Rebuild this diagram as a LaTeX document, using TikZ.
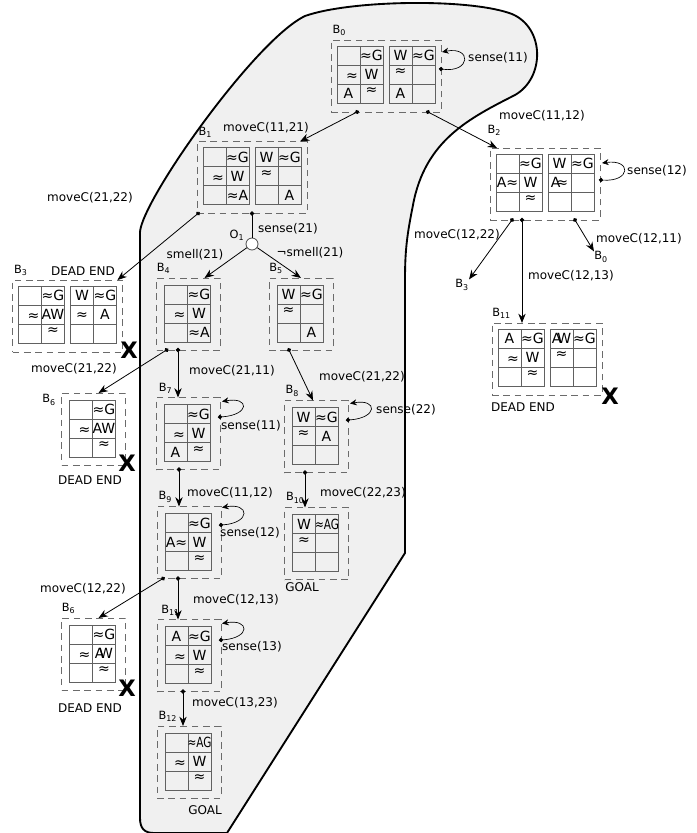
\documentclass[tikz,border=0pt]{standalone}
\usepackage{fontspec}
\setmainfont{DejaVu Sans}
\usetikzlibrary{positioning,arrows.meta,calc}
\definecolor{dashgray}{gray}{0.42}
\definecolor{gridgray}{gray}{0.38}
\definecolor{blobfill}{gray}{0.94}
% lone approx signs: raised to the cell top, or pushed right
\newcommand{\apT}{\raisebox{3pt}{≈}}
\newcommand{\apR}{\makebox[14pt][r]{\raisebox{-1pt}{≈}}}
\newcommand{\sq}[1]{\scalebox{0.75}[1]{#1}}
% 2x3 belief grid: corner, offset, cells row by row
\newcommand{\bgrid}[8]{%
  \begin{scope}[shift={(#1)},shift={(#2)}]
    \draw[gridln] (0,0) rectangle (46,57);
    \draw[gridln] (23,0) -- (23,57) (0,19) -- (46,19) (0,38) -- (46,38);
    \node[cell] at (11.5,9.5) {#3};
    \node[cell] at (34.5,9.5) {#4};
    \node[cell] at (11.5,28.5) {#5};
    \node[cell] at (34.5,28.5) {#6};
    \node[cell] at (11.5,47.5) {#7};
    \node[cell] at (34.5,47.5) {#8};
  \end{scope}}

\begin{document}
\begin{tikzpicture}[x=0.75pt,y=-0.75pt,
  blob/.style={fill=blobfill,draw=black,line width=1.4pt,line join=round},
  belief/.style={draw=dashgray,dash pattern=on 5pt off 3.5pt,line width=0.7pt,inner sep=0pt,outer sep=0pt},
  bone/.style={belief,minimum width=48pt,minimum height=54pt},
  btwo/.style={belief,minimum width=82.5pt,minimum height=54pt},
  cell/.style={font=\fontsize{10.5}{10.5}\selectfont,inner sep=0pt,text height=7.5pt,text depth=0pt},
  gridln/.style={draw=gridgray,line width=0.7pt},
  lbl/.style={font=\fontsize{9}{10}\selectfont,inner sep=1pt},
  blab/.style={font=\fontsize{8.5}{9}\selectfont,inner sep=0pt},
  xmark/.style={font=\fontsize{17}{17}\selectfont\bfseries,inner sep=0pt},
  obs/.style={circle,draw=black!70,fill=white,minimum size=9pt,inner sep=0pt,line width=0.6pt},
  ar/.style={{Circle[length=3.2pt]}-{Stealth[length=7pt,width=5.5pt]},shorten <=-1.6pt,line width=0.6pt},
  arp/.style={-{Stealth[length=7pt,width=5.5pt]},line width=0.6pt},
  ln/.style={{Circle[length=3.2pt]}-,shorten <=-1.6pt,line width=0.6pt},
  lp/.style={{Circle[length=3.2pt]}-{Stealth[length=5pt,width=4.5pt]},shorten <=-1.6pt,line width=0.5pt}]
\useasboundingbox (0,0) rectangle (697,833);
% shaded region
\draw[blob] (140,818) -- (140,232) .. controls (142,200) and (255,40) .. (305,16)
  .. controls (350,0) and (470,-2) .. (512,14) .. controls (545,28) and (545,78) .. (515,95)
  .. controls (470,118) and (425,140) .. (413,205) .. controls (407,235) and (405,250) .. (405,280)
  -- (405,553) -- (227,833) -- (154,833) .. controls (144,833) and (140,828) .. (140,818) -- cycle;
% belief states
\node[btwo] (b0) at (386,76) {};
\node[btwo] (b1) at (252,177.5) {};
\node[btwo] (b2) at (545,184) {};
\node[btwo] (b3) at (67.5,316) {};
\node[bone] (b4) at (188.5,314) {};
\node[bone] (b5) at (301,314) {};
\node[bone] (b6a) at (93.5,429) {};
\node[bone] (b7) at (188,433.5) {};
\node[bone] (b8) at (316,436.5) {};
\node[bone] (b9) at (189,542.5) {};
\node[bone] (b10) at (316.5,543.5) {};
\node[bone] (b6b) at (93.5,654) {};
\node[bone] (b11a) at (189,655.5) {};
\node[bone] (b12) at (189,762) {};
\node[btwo] (b11b) at (547,359) {};
\node[obs] (o1) at (252,244) {};
% grids
\bgrid{b0.north west}{6,6}{}{≈G}{\apR}{W}{A}{\apT}
\bgrid{b0.north west}{58,6}{W}{≈G}{\apT}{}{A}{}
\bgrid{b1.north west}{6,6}{}{≈G}{\apR}{W}{}{≈A}
\bgrid{b1.north west}{58,6}{W}{≈G}{\apT}{}{}{A}
\bgrid{b2.north west}{6,6}{}{≈G}{A≈}{W}{}{\apT}
\bgrid{b2.north west}{58,6}{W}{≈G}{A\kern-3pt≈}{}{}{}
\bgrid{b3.north west}{6,6}{}{≈G}{\apR}{AW}{}{\apT}
\bgrid{b3.north west}{58,6}{W}{≈G}{≈}{A}{}{}
\bgrid{b4.north west}{8,7}{}{≈G}{\apR}{W}{}{≈A}
\bgrid{b5.north west}{8,7}{W}{≈G}{\apT}{}{}{A}
\bgrid{b6a.north west}{8,7}{}{≈G}{\apR}{AW}{}{\apT}
\bgrid{b7.north west}{8,7}{}{≈G}{\apR}{W}{A}{\apT}
\bgrid{b8.north west}{8,7}{W}{≈G}{\apT}{A}{}{}
\bgrid{b9.north west}{8,7}{}{≈G}{A≈}{W}{}{\apT}
\bgrid{b10.north west}{8,7}{W}{\sq{≈AG}}{\apT}{}{}{}
\bgrid{b6b.north west}{8,7}{}{≈G}{\apR}{A\kern-4pt W}{}{\apT}
\bgrid{b11a.north west}{8,7}{A}{≈G}{\apR}{W}{}{\apT}
\bgrid{b12.north west}{8,7}{}{\sq{≈AG}}{\apR}{W}{}{\apT}
\bgrid{b11b.north west}{6,6}{A}{≈G}{\apR}{W}{}{\apT}
\bgrid{b11b.north west}{58,6}{A\kern-3pt W}{≈G}{\apT}{}{}{}
% state names
\node[blab,above right=3pt and 1pt of b0.north west] (b0t) {B\textsubscript{0}};
\node[blab,above right=3pt and 1pt of b1.north west] (b1t) {B\textsubscript{1}};
\node[blab,above right=9pt and -2pt of b2.north west] (b2t) {B\textsubscript{2}};
\node[blab,above right=3pt and 1pt of b3.north west] (b3t) {B\textsubscript{3}};
\node[blab,above right=3pt and 0pt of b4.north west] (b4t) {B\textsubscript{4}};
\node[blab,above right=3pt and 0pt of b5.north west] (b5t) {B\textsubscript{5}};
\node[blab,below left=1pt and 4pt of b6a.north west] (b6at) {B\textsubscript{6}};
\node[blab,above right=3pt and 2pt of b7.north west] (b7t) {B\textsubscript{7}};
\node[blab,above right=3pt and 1pt of b8.north west] (b8t) {B\textsubscript{8}};
\node[blab,above right=3pt and 1pt of b9.north west] (b9t) {B\textsubscript{9}};
\node[blab,above right=3pt and 1pt of b10.north west] (b10t) {B\textsubscript{10}};
\node[blab,above right=3pt and 0pt of b6b.north west] (b6bt) {B\textsubscript{6}};
\node[blab,above right=3pt and 3pt of b11a.north west] (b11at) {B\textsubscript{11}};
\node[blab,above right=3pt and 1pt of b12.north west] (b12t) {B\textsubscript{12}};
\node[blab,above right=3pt and 0pt of b11b.north west] (b11bt) {B\textsubscript{11}};
\node[blab] (o1t) at (237,235) {O\textsubscript{1}};
\node[blab] (r3) at (462,285) {B\textsubscript{3}};
\node[blab] (r0) at (601,257) {B\textsubscript{0}};
% outcomes
\node[lbl] (d3) at (83,271) {DEAD END};
\node[lbl] (d6a) at (90,480) {DEAD END};
\node[lbl] (d6b) at (90,708) {DEAD END};
\node[lbl] (d11b) at (523,407) {DEAD END};
\node[lbl] (g10) at (302,587) {GOAL};
\node[lbl] (g12) at (205,810) {GOAL};
\node[xmark] (x3) at (129,350) {X};
\node[xmark] (x6a) at (127,463) {X};
\node[xmark] (x6b) at (127,688) {X};
\node[xmark] (x11b) at (610,396) {X};
% actions
\node[lbl] (l01) at (266,128) {moveC(11,21)};
\node[lbl] (l02) at (542,116) {moveC(11,12)};
\node[lbl] (s0) at (498,58) {sense(11)};
\node[lbl] (l13) at (90,198) {moveC(21,22)};
\node[lbl] (s1) at (288,229) {sense(21)};
\node[lbl] (sm) at (195,255) {smell(21)};
\node[lbl] (nsm) at (310,253) {¬smell(21)};
\node[lbl] (l46) at (74,369) {moveC(21,22)};
\node[lbl] (l47) at (232,371) {moveC(21,11)};
\node[lbl] (s7) at (251,426) {sense(11)};
\node[lbl] (l58) at (362,377) {moveC(21,22)};
\node[lbl] (s8) at (406,410) {sense(22)};
\node[lbl] (l79) at (230,493) {moveC(11,12)};
\node[lbl] (l810) at (363,493) {moveC(22,23)};
\node[lbl] (s9) at (250,533) {sense(12)};
\node[lbl] (l96) at (83,589) {moveC(12,22)};
\node[lbl] (l911) at (236,600) {moveC(12,13)};
\node[lbl] (s11) at (252,647) {sense(13)};
\node[lbl] (l1112) at (235,703) {moveC(13,23)};
\node[lbl] (s2) at (657,171) {sense(12)};
\node[lbl] (l23) at (457,235) {moveC(12,22)};
\node[lbl] (l211) at (571,276) {moveC(12,13)};
\node[lbl] (l20) at (639,239) {moveC(12,11)};
% transitions
\draw[ar] ($(b0.south west)+(26,0)$) -- ($(b1.north east)+(-7,0)$);
\draw[ar] ($(b0.south east)+(-13,0)$) -- ($(b2.north west)+(7,0)$);
\draw[ar] ($(b1.south west)+(1,0)$) -- ($(b3.north east)+(-5,0)$);
\draw[ln] (b1.south) -- (o1);
\draw[arp] (o1) -- ($(b4.north)+(16,0)$);
\draw[arp] (o1) -- (b5.north);
\draw[ar] ($(b4.south west)+(10,0)$) -- ($(b6a.north)+(5,0)$);
\draw[ar] ($(b4.south west)+(21.5,0)$) -- ($(b7.north west)+(22,0)$);
\draw[ar] ($(b5.south west)+(20,0)$) -- ($(b8.north)+(-3,0)$);
\draw[ar] ($(b7.south west)+(23,0)$) -- ($(b9.north west)+(22,0)$);
\draw[ar] ($(b8.south west)+(21,0)$) -- ($(b10.north west)+(20.5,0)$);
\draw[ar] ($(b9.south west)+(6,0)$) -- ($(b6b.north)+(5,0)$);
\draw[ar] ($(b9.south west)+(21,0)$) -- ($(b11a.north west)+(21,0)$);
\draw[ar] ($(b11a.south west)+(26,0)$) -- ($(b12.north west)+(26,0)$);
\draw[ar] ($(b2.south west)+(22,0)$) -- (r3.north east);
\draw[ar] ($(b2.south west)+(32,0)$) -- ($(b11b.north west)+(30,0)$);
\draw[ar] ($(b2.south east)+(-25,0)$) -- (r0.north west);
% sensing loops
\draw[lp] ($(b0.east)+(0,-7)$) .. controls +(30,4) and +(30,-6) .. ($(b0.east)+(1,-24)$);
\draw[lp] ($(b2.east)+(1,-4)$) .. controls +(30,2) and +(30,-4) .. ($(b2.east)+(2,-21)$);
\draw[lp] ($(b7.east)+(0,-16.5)$) .. controls +(30,-2) and +(28,-5) .. ($(b7.north east)+(2,4)$);
\draw[lp] ($(b8.east)+(0,-16.5)$) .. controls +(30,-2) and +(28,-5) .. ($(b8.north east)+(2,3)$);
\draw[lp] ($(b9.east)+(0,-17.5)$) .. controls +(30,-2) and +(28,-5) .. ($(b9.north east)+(1,1)$);
\draw[lp] ($(b11a.east)+(0,-15.5)$) .. controls +(30,-2) and +(28,-5) .. ($(b11a.north east)+(1,4)$);
\end{tikzpicture}
\end{document}
